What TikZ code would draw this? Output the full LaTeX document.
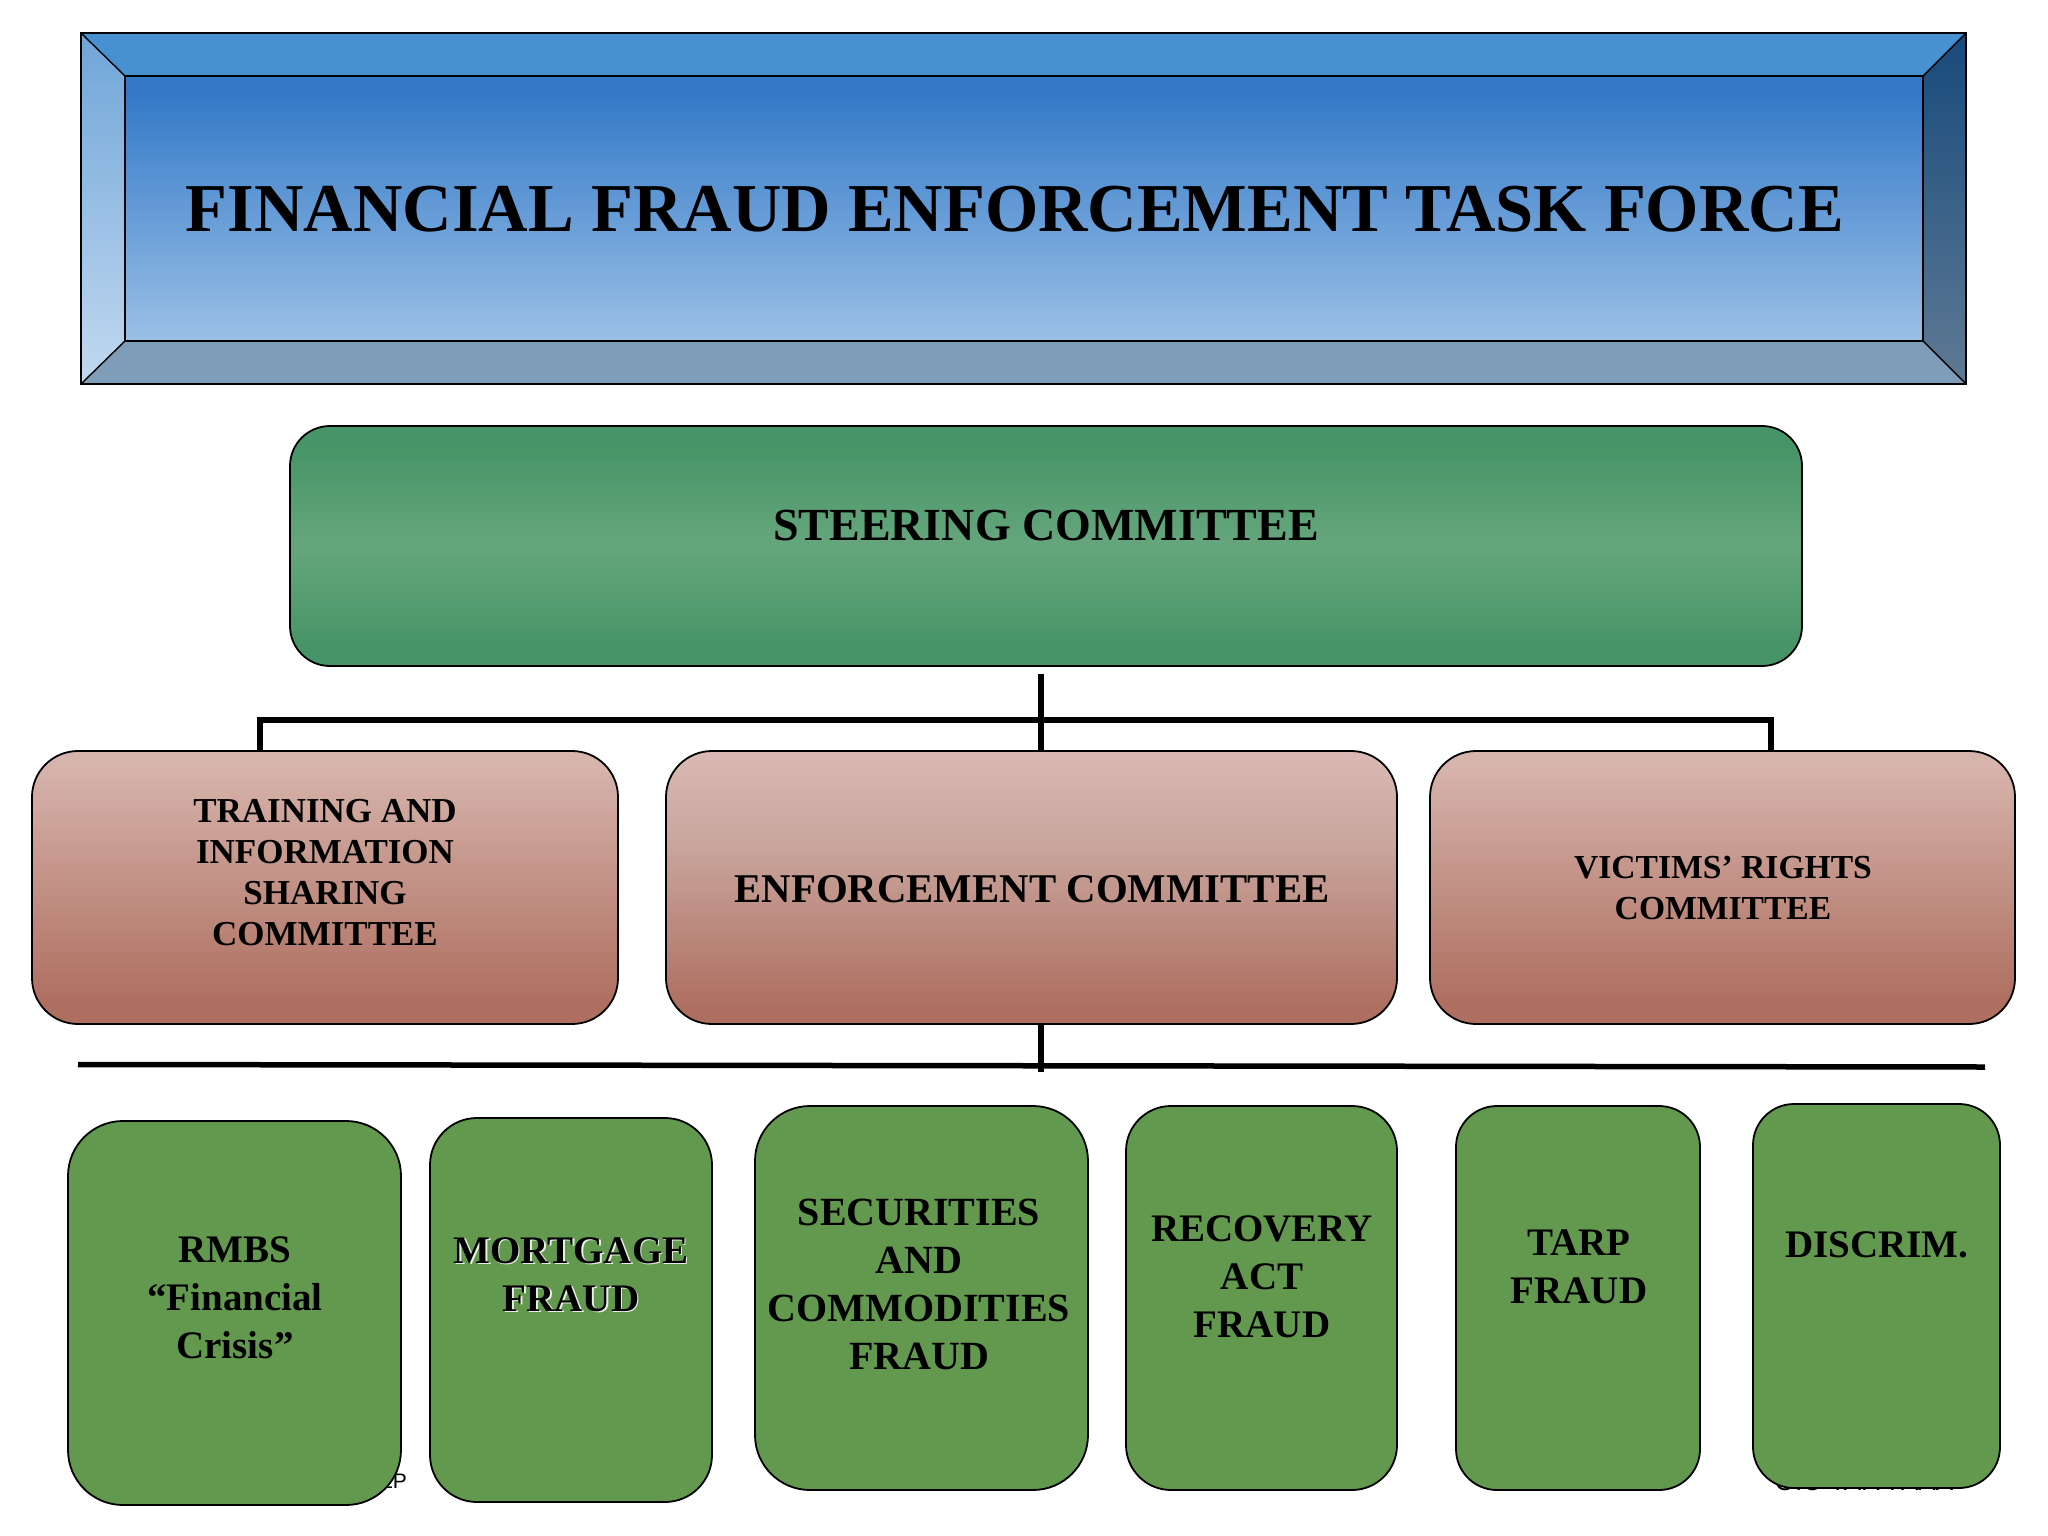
\documentclass[tikz,border=0pt]{standalone}
\usepackage{fontspec}
\setmainfont{Liberation Serif}
\newfontfamily\frag{Liberation Sans}
\definecolor{stA}{HTML}{469467}
\definecolor{stB}{HTML}{66A67D}
\definecolor{pkA}{HTML}{DAB9B5}
\definecolor{pkB}{HTML}{CBA9A1}
\definecolor{pkC}{HTML}{AE6F60}
\definecolor{pkD}{HTML}{D6B3AB}
\definecolor{inT}{HTML}{3379C8}
\definecolor{inB}{HTML}{9BC0E6}
\definecolor{grn}{HTML}{63994F}
\definecolor{bvTop}{HTML}{4791D0}
\definecolor{bvBot}{HTML}{7F9DB9}
\definecolor{lfT}{HTML}{6FA5D8}
\definecolor{lfB}{HTML}{C2D9F0}
\definecolor{rtT}{HTML}{174A7C}
\definecolor{rtB}{HTML}{5F7A94}
\pgfdeclareverticalshading{stsh}{100bp}{color(0bp)=(stA); color(29bp)=(stA); color(50bp)=(stB); color(71bp)=(stA); color(100bp)=(stA)}
\pgfdeclareverticalshading{pkEn}{100bp}{color(0bp)=(pkC); color(28bp)=(pkC); color(60bp)=(pkB); color(75bp)=(pkA); color(100bp)=(pkA)}
\pgfdeclareverticalshading{pkSd}{100bp}{color(0bp)=(pkC); color(29bp)=(pkC); color(72bp)=(pkD); color(100bp)=(pkD)}
\pgfdeclareverticalshading{innerb}{100bp}{color(0bp)=(inB); color(25bp)=(inB); color(72bp)=(inT); color(100bp)=(inT)}
\tikzset{
  x=1pt,y=-1pt,
  outl/.style={draw=black,line width=1.8pt,line join=miter},
  rbox/.style={draw=black,line width=1.8pt,minimum width=#1,inner sep=0pt},
  gbox/.style={rbox=#1,fill=grn,minimum height=384pt},
  txt/.style={align=center,font=\bfseries,inner sep=0pt,text=black},
  conn/.style={line width=5.5pt,draw=black},
}
\begin{document}
\begin{tikzpicture}
\useasboundingbox (0,0) rectangle (2048,1536);
% bevel
\fill[bvTop] (81,33) -- (1966,33) -- (1923,76) -- (125,76) -- cycle;
\fill[bvBot] (81,384) -- (1966,384) -- (1923,341) -- (125,341) -- cycle;
\shade[top color=lfT,bottom color=lfB] (81,33) -- (125,76) -- (125,341) -- (81,384) -- cycle;
\shade[top color=rtT,bottom color=rtB] (1966,33) -- (1923,76) -- (1923,341) -- (1966,384) -- cycle;
\shade[shading=innerb] (125,76) rectangle (1923,341);
\draw[outl] (81,33) rectangle (1966,384);
\draw[outl] (125,76) rectangle (1923,341);
\draw[line width=1.4pt] (81,33) -- (125,76) (1966,33) -- (1923,76) (81,384) -- (125,341) (1966,384) -- (1923,341);
\node[txt,font=\bfseries\fontsize{68.5}{74}\selectfont] (title) at (1015,209) {FINANCIAL FRAUD ENFORCEMENT TASK FORCE};
% steering
\node[rbox=1512pt,minimum height=240pt,rounded corners=40pt,shading=stsh] (steer) at (1046,546) {};
\node[txt,font=\bfseries\fontsize{46}{50}\selectfont] (steert) at (1046,525) {STEERING COMMITTEE};
% connectors
\coordinate (busL) at (78,1064.5);
\coordinate (busR) at (1985,1067);
\coordinate (stemTop) at (1041,674);
\coordinate (stemEnd) at (1041,1072);
\draw[conn] (stemTop) -- (1041,751);
\draw[conn] (260,751) -- (260,720) -- (1771,720) -- (1771,751);
\draw[conn] (1041,1024) -- (stemEnd);
\draw[conn] (busL) -- (busR);
% committees
\node[rbox=586pt,minimum height=273pt,rounded corners=46pt,shading=pkSd] (train) at (325,887.5) {};
\node[rbox=731pt,minimum height=273pt,rounded corners=46pt,shading=pkEn] (enf) at (1031.5,887.5) {};
\node[rbox=585pt,minimum height=273pt,rounded corners=46pt,shading=pkSd] (vict) at (1722.5,887.5) {};
\node[txt,font=\bfseries\fontsize{35}{41}\selectfont] (traint) at (325,873) {TRAINING AND\\INFORMATION\\SHARING\\COMMITTEE};
\node[txt,font=\bfseries\fontsize{40.8}{44}\selectfont] (enft) at (1032,889) {ENFORCEMENT COMMITTEE};
\node[txt,font=\bfseries\fontsize{33.6}{41}\selectfont] (victt) at (1723,888) {VICTIMS’ RIGHTS\\COMMITTEE};
% partly covered footer fragments
\node[font=\frag\fontsize{21}{24}\selectfont,anchor=base east,inner sep=0pt] (fragL) at (407,1488) {LP};
\node[font=\frag\fontsize{26}{30}\selectfont,anchor=base,inner sep=0pt] (fragR) at (1864,1490) {OIO TAPA AAA};
% working groups
\node[gbox=333pt,rounded corners=55pt] (g1) at (234.5,1313) {};
\node[gbox=282pt,rounded corners=47pt] (g2) at (571,1310) {};
\node[gbox=333pt,rounded corners=55pt] (g3) at (921.5,1298) {};
\node[gbox=271pt,rounded corners=45pt] (g4) at (1261.5,1298) {};
\node[gbox=244pt,rounded corners=41pt] (g5) at (1578,1298) {};
\node[gbox=247pt,rounded corners=41pt] (g6) at (1876.5,1296) {};
\tikzset{gt/.style={txt,font=\bfseries\fontsize{39}{48}\selectfont}}
\node[gt] (g1t) at (235,1298) {RMBS\\“Financial\\Crisis”};
\node[gt,text=white,opacity=.85] (g2s) at (572.5,1276) {MORTGAGE\\FRAUD};
\node[gt] (g2t) at (571,1275) {MORTGAGE\\FRAUD};
\node[gt,font=\bfseries\fontsize{40}{48}\selectfont] (g3t) at (919,1284) {SECURITIES\\AND\\COMMODITIES\\FRAUD};
\node[gt] (g4t) at (1262,1277) {RECOVERY\\ACT\\FRAUD};
\node[gt] (g5t) at (1579,1267) {TARP\\FRAUD};
\node[gt] (g6t) at (1877,1245) {DISCRIM.};
\end{tikzpicture}
\end{document}
